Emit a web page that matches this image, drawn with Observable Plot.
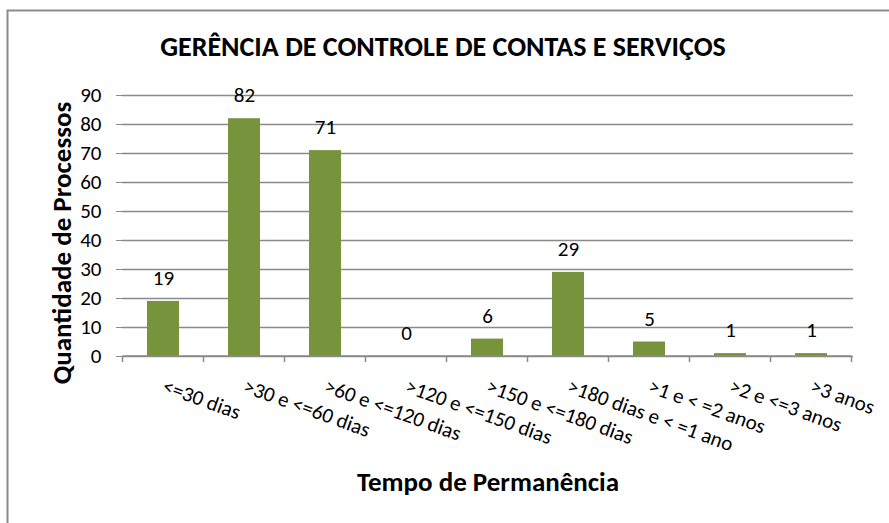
<!DOCTYPE html>
<html>
<head>
<meta charset="utf-8">
<script src="https://cdn.jsdelivr.net/npm/d3@7"></script>
<script src="https://cdn.jsdelivr.net/npm/@observablehq/plot@0.6"></script>
<style>
  html, body { margin: 0; padding: 0; background: #fff; overflow: hidden; }
  #chart svg { display: block; font-family: Carlito, Calibri, Lato, sans-serif; }
</style>
</head>
<body>
<div id="chart"></div>
<script>
const title = "GERÊNCIA DE CONTROLE DE CONTAS E SERVIÇOS";
const xLabel = "Tempo de Permanência";
const yLabel = "Quantidade de Processos";
const categories = ["<=30 dias", ">30 e <=60 dias", ">60 e <=120 dias", ">120 e <=150 dias", ">150 e <=180 dias", ">180 dias e < =1 ano", ">1 e < =2 anos", ">2 e <=3 anos", ">3 anos"];
const values = [19, 82, 71, 0, 6, 29, 5, 1, 1];
const yTicks = [0, 10, 20, 30, 40, 50, 60, 70, 80, 90];

const data = categories.map((c, i) => ({cat: c, value: values[i]}));

const W = 889, H = 523;
const mL = 122, mR = 36, mT = 95, mB = 167;
const GRID = "#8a8a8a";
const BAR = "#77933C";
const FONT = "Carlito, Calibri, Lato, sans-serif";

// boundary tick marks between categories, using the x band scale
function boundaryTicks(index, scales, values, dims) {
  const x = scales.x;
  const bw = typeof x.bandwidth === "function" ? x.bandwidth() : (scales.scales?.x?.bandwidth ?? 0);
  const centers = categories.map(c => x(c) + bw / 2);
  const step = centers[1] - centers[0];
  const bounds = centers.map(c => c - step / 2).concat([centers[centers.length - 1] + step / 2]);
  const y0 = scales.y(0);
  const g = d3.create("svg:g");
  for (const b of bounds) {
    g.append("line").attr("x1", b).attr("x2", b).attr("y1", y0).attr("y2", y0 + 6)
      .attr("stroke", GRID).attr("stroke-width", 1.5);
  }
  g.append("line").attr("x1", bounds[0]).attr("x2", bounds[bounds.length - 1])
    .attr("y1", y0).attr("y2", y0).attr("stroke", GRID).attr("stroke-width", 1.5);
  return g.node();
}

const chart = Plot.plot({
  width: W,
  height: H,
  marginLeft: mL,
  marginRight: mR,
  marginTop: mT,
  marginBottom: mB,
  style: {background: "#fff", fontFamily: FONT, overflow: "hidden"},
  x: {domain: categories, paddingInner: 0.6, paddingOuter: 0.3, axis: null},
  y: {domain: [0, 90], axis: null},
  marks: [
    Plot.frame({stroke: "#8c8c8c", strokeWidth: 2, insetLeft: -(mL - 7), insetTop: -(mT - 10), insetRight: -100, insetBottom: -300}),
    Plot.gridY(yTicks, {stroke: GRID, strokeOpacity: 1, strokeWidth: 1.5}),
    Plot.ruleX([0], {x: () => null, frameAnchor: "left", y1: 0, y2: 90, stroke: GRID, strokeWidth: 1.5}),
    Plot.axisY({ticks: yTicks, tickSize: 6, tickPadding: 15, stroke: GRID, strokeOpacity: 1, fontSize: 21, fill: "#000", label: null}),
    Plot.barY(data, {x: "cat", y: "value", fill: BAR}),
    Plot.text(data, {x: "cat", y: "value", text: d => String(d.value), dy: -23, fontSize: 21, fill: "#000"}),
    boundaryTicks,
    Plot.text(data, {x: "cat", text: "cat", frameAnchor: "bottom", dy: 29, rotate: 20, textAnchor: "start", lineAnchor: "middle", fontSize: 21, fill: "#000"}),
    Plot.text([title], {frameAnchor: "top", dx: -45, dy: -48, lineAnchor: "middle", textAnchor: "middle", fontSize: 28, fontWeight: "bold", fill: "#000"}),
    Plot.text([xLabel], {frameAnchor: "bottom", dy: 126, lineAnchor: "middle", textAnchor: "middle", fontSize: 27, fontWeight: "bold", fill: "#000"}),
    Plot.text([yLabel], {frameAnchor: "left", dx: -60, dy: 17, rotate: -90, lineAnchor: "middle", textAnchor: "middle", fontSize: 27, fontWeight: "bold", fill: "#000"})
  ]
});
document.getElementById("chart").append(chart);
</script>
</body>
</html>
